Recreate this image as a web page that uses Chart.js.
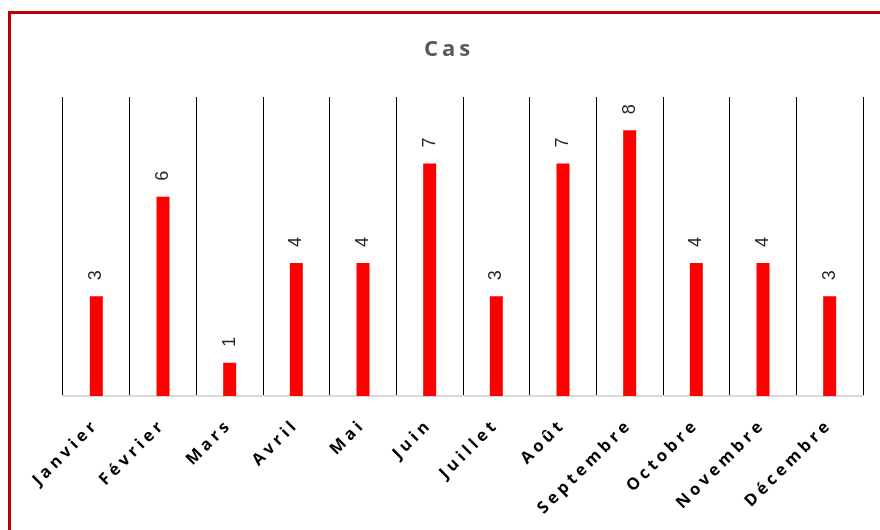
<!DOCTYPE html>
<html>
<head>
<meta charset="utf-8">
<script src="https://cdn.jsdelivr.net/npm/chart.js@4/dist/chart.umd.min.js"></script>
<style>
  html, body { margin: 0; padding: 0; background: #ffffff; }
  #wrap { position: relative; width: 880px; height: 530px; overflow: hidden; }
  #frame {
    position: absolute; left: 8px; top: 11px; width: 900px; height: 600px;
    border: 3px solid #c00000; box-sizing: border-box; pointer-events: none;
  }
  canvas { position: absolute; left: 0; top: 0; }
</style>
</head>
<body>
<div id="wrap">
  <canvas id="c" width="880" height="530"></canvas>
  <div id="frame"></div>
</div>
<script>
// Monthly case counts
const months = ['Janvier', 'Février', 'Mars', 'Avril', 'Mai', 'Juin',
                'Juillet', 'Août', 'Septembre', 'Octobre', 'Novembre', 'Décembre'];
const cases = [3, 6, 1, 4, 4, 7, 3, 7, 8, 4, 4, 3];
const yMax = 9;

// Wide letter spacing for the chart's text
const SPACING = '4px';
const spacing = {
  id: 'spacing',
  beforeInit(chart) { chart.ctx.letterSpacing = SPACING; },
  beforeUpdate(chart) { chart.ctx.letterSpacing = SPACING; },
  beforeDraw(chart) { chart.ctx.letterSpacing = SPACING; }
};

// Vertical value labels above each bar
const valueLabels = {
  id: 'valueLabels',
  afterDatasetsDraw(chart) {
    const ctx = chart.ctx;
    const meta = chart.getDatasetMeta(0);
    ctx.save();
    ctx.letterSpacing = '0px';
    ctx.font = '18px "Liberation Sans", Arial, sans-serif';
    ctx.fillStyle = '#262626';
    ctx.textAlign = 'left';
    ctx.textBaseline = 'middle';
    meta.data.forEach((bar, i) => {
      ctx.save();
      ctx.translate(bar.x, bar.y - 16);
      ctx.rotate(-Math.PI / 2);
      ctx.fillText(String(cases[i]), 0, 0);
      ctx.restore();
    });
    ctx.restore();
  }
};

new Chart(document.getElementById('c'), {
  type: 'bar',
  data: {
    labels: months,
    datasets: [{
      label: 'Cas',
      data: cases,
      backgroundColor: '#ff0000',
      borderWidth: 0,
      categoryPercentage: 1,
      barPercentage: 0.195
    }]
  },
  options: {
    responsive: false,
    animation: false,
    layout: { padding: { left: 35, right: 17, top: 0, bottom: 0 } },
    plugins: {
      legend: { display: false },
      tooltip: { enabled: false },
      title: {
        display: true,
        text: 'Cas',
        color: '#595959',
        font: { family: '"Open Sans", sans-serif', size: 22, weight: 'bold', lineHeight: 1.2 },
        padding: { top: 37, bottom: 33.6 }
      }
    },
    scales: {
      x: {
        grid: { color: '#000000', lineWidth: 1, drawTicks: false, offset: true },
        border: { display: true, color: '#d9d9d9', width: 2 },
        ticks: {
          color: '#000000',
          font: { family: '"Open Sans", sans-serif', size: 16.5, weight: 'bold' },
          minRotation: 45,
          maxRotation: 45,
          padding: 19,
          autoSkip: false
        },
        afterFit(scale) { scale.height = 134; }
      },
      y: {
        display: true,
        min: 0,
        max: yMax,
        grid: { display: false, drawTicks: false },
        border: { display: false },
        ticks: { display: false },
        afterFit(scale) { scale.width = 28; }
      }
    }
  },
  plugins: [spacing, valueLabels]
});
</script>
</body>
</html>
